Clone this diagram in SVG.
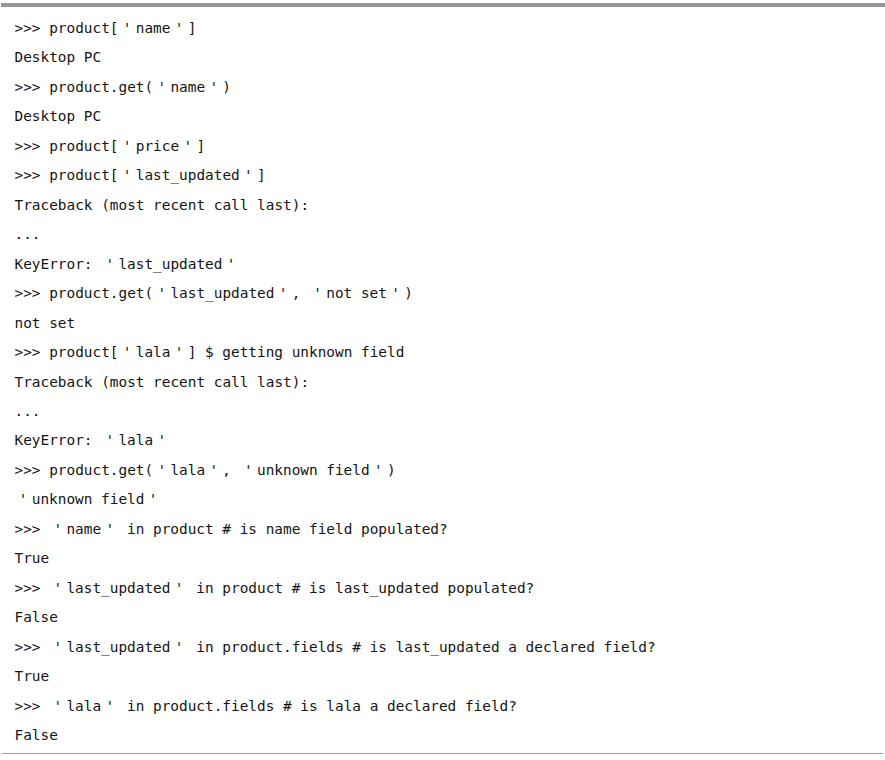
<svg xmlns="http://www.w3.org/2000/svg" width="885" height="760" viewBox="0 0 885 760">
<style>
text { font-family: "DejaVu Sans Mono", "Liberation Mono", monospace; font-size: 14.4px; fill: #141414; white-space: pre; }
</style>
<rect x="0" y="0" width="885" height="760" fill="#ffffff"/>
<rect id="top-rule" x="1" y="3" width="884" height="4" fill="#959595"/>
<line id="bottom-rule" x1="2" y1="753.5" x2="883" y2="753.5" stroke="#a0a0a0" stroke-width="1.2"/>
<g id="listing" transform="translate(0,1)">
<text x="14.5" y="32" xml:space="preserve">&gt;&gt;&gt; product[<tspan dx="4.31">'</tspan><tspan dx="4.31">name</tspan><tspan dx="4.31">'</tspan><tspan dx="4.31">]</tspan></text>
<text x="14.5" y="61.46" xml:space="preserve">Desktop PC</text>
<text x="14.5" y="90.92" xml:space="preserve">&gt;&gt;&gt; product.get(<tspan dx="4.31">'</tspan><tspan dx="4.31">name</tspan><tspan dx="4.31">'</tspan><tspan dx="4.31">)</tspan></text>
<text x="14.5" y="120.38" xml:space="preserve">Desktop PC</text>
<text x="14.5" y="149.84" xml:space="preserve">&gt;&gt;&gt; product[<tspan dx="4.31">'</tspan><tspan dx="4.31">price</tspan><tspan dx="4.31">'</tspan><tspan dx="4.31">]</tspan></text>
<text x="14.5" y="179.3" xml:space="preserve">&gt;&gt;&gt; product[<tspan dx="4.31">'</tspan><tspan dx="4.31">last_updated</tspan><tspan dx="4.31">'</tspan><tspan dx="4.31">]</tspan></text>
<text x="14.5" y="208.76" xml:space="preserve">Traceback (most recent call last):</text>
<text x="14.5" y="238.22" xml:space="preserve">...</text>
<text x="14.5" y="267.68" xml:space="preserve">KeyError: <tspan dx="4.31">'</tspan><tspan dx="4.31">last_updated</tspan><tspan dx="4.31">'</tspan></text>
<text x="14.5" y="297.14" xml:space="preserve">&gt;&gt;&gt; product.get(<tspan dx="4.31">'</tspan><tspan dx="4.31">last_updated</tspan><tspan dx="4.31">'</tspan><tspan dx="4.31">, </tspan><tspan dx="4.31">'</tspan><tspan dx="4.31">not set</tspan><tspan dx="4.31">'</tspan><tspan dx="4.31">)</tspan></text>
<text x="14.5" y="326.6" xml:space="preserve">not set</text>
<text x="14.5" y="356.06" xml:space="preserve">&gt;&gt;&gt; product[<tspan dx="4.31">'</tspan><tspan dx="4.31">lala</tspan><tspan dx="4.31">'</tspan><tspan dx="4.31">] $ getting unknown field</tspan></text>
<text x="14.5" y="385.52" xml:space="preserve">Traceback (most recent call last):</text>
<text x="14.5" y="414.98" xml:space="preserve">...</text>
<text x="14.5" y="444.44" xml:space="preserve">KeyError: <tspan dx="4.31">'</tspan><tspan dx="4.31">lala</tspan><tspan dx="4.31">'</tspan></text>
<text x="14.5" y="473.9" xml:space="preserve">&gt;&gt;&gt; product.get(<tspan dx="4.31">'</tspan><tspan dx="4.31">lala</tspan><tspan dx="4.31">'</tspan><tspan dx="4.31">, </tspan><tspan dx="4.31">'</tspan><tspan dx="4.31">unknown field</tspan><tspan dx="4.31">'</tspan><tspan dx="4.31">)</tspan></text>
<text x="14.5" y="503.36" xml:space="preserve"><tspan dx="4.31">'</tspan><tspan dx="4.31">unknown field</tspan><tspan dx="4.31">'</tspan></text>
<text x="14.5" y="532.82" xml:space="preserve">&gt;&gt;&gt; <tspan dx="4.31">'</tspan><tspan dx="4.31">name</tspan><tspan dx="4.31">'</tspan><tspan dx="4.31"> in product # is name field populated?</tspan></text>
<text x="14.5" y="562.28" xml:space="preserve">True</text>
<text x="14.5" y="591.74" xml:space="preserve">&gt;&gt;&gt; <tspan dx="4.31">'</tspan><tspan dx="4.31">last_updated</tspan><tspan dx="4.31">'</tspan><tspan dx="4.31"> in product # is last_updated populated?</tspan></text>
<text x="14.5" y="621.2" xml:space="preserve">False</text>
<text x="14.5" y="650.66" xml:space="preserve">&gt;&gt;&gt; <tspan dx="4.31">'</tspan><tspan dx="4.31">last_updated</tspan><tspan dx="4.31">'</tspan><tspan dx="4.31"> in product.fields # is last_updated a declared field?</tspan></text>
<text x="14.5" y="680.12" xml:space="preserve">True</text>
<text x="14.5" y="709.58" xml:space="preserve">&gt;&gt;&gt; <tspan dx="4.31">'</tspan><tspan dx="4.31">lala</tspan><tspan dx="4.31">'</tspan><tspan dx="4.31"> in product.fields # is lala a declared field?</tspan></text>
<text x="14.5" y="739.04" xml:space="preserve">False</text>
</g>
</svg>
